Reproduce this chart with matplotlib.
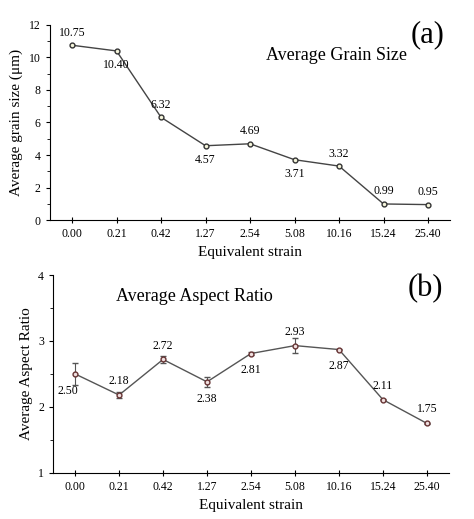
import matplotlib
matplotlib.use("Agg")
import matplotlib.pyplot as plt
from matplotlib.ticker import MultipleLocator

plt.rcParams['font.family'] = ['Liberation Serif', 'DejaVu Serif']

strain_labels = ["0.00", "0.21", "0.42", "1.27", "2.54", "5.08", "10.16", "15.24", "25.40"]
grain_size = [10.75, 10.40, 6.32, 4.57, 4.69, 3.71, 3.32, 0.99, 0.95]
grain_pos = ["a", "b", "a", "b", "a", "b", "a", "a", "a"]
aspect = [2.50, 2.18, 2.72, 2.38, 2.81, 2.93, 2.87, 2.11, 1.75]
aspect_err = [0.17, 0.05, 0.05, 0.08, 0.02, 0.11, 0.01, 0.01, 0.01]
aspect_pos = ["b", "a", "a", "b", "b", "a", "b", "a", "a"]

fig = plt.figure(figsize=(4.74, 5.19), dpi=100)
ax1 = fig.add_axes([0.105, 0.576, 0.845, 0.376])
ax2 = fig.add_axes([0.112, 0.089, 0.835, 0.381])
x = list(range(len(strain_labels)))

def style(ax):
    for s in ["top", "right"]:
        ax.spines[s].set_visible(False)
    ax.set_xticks(x)
    ax.set_xticklabels(strain_labels, fontsize=8.5)
    ax.tick_params(axis='x', direction='inout', length=5)
    ax.tick_params(axis='y', direction='out', length=3, labelsize=8.5)
    ax.tick_params(axis='y', which='minor', direction='out', length=2)
    ax.set_xlim(-0.5, 8.5)
    ax.set_xlabel("Equivalent strain", fontsize=11)

ax1.plot(x, grain_size, '-o', color='#444', lw=1, ms=3.5, mfc='#f5f5dc', mec='#333')
for xi, v, p in zip(x, grain_size, grain_pos):
    ax1.annotate(f"{v:.2f}", (xi, v), xytext=(0, 9 if p == "a" else -10),
                 textcoords='offset points', ha='center', va='center', fontsize=8.5)
ax1.set_ylim(0, 12)
ax1.yaxis.set_major_locator(MultipleLocator(2))
ax1.yaxis.set_minor_locator(MultipleLocator(1))
ax1.set_ylabel("Average grain size (μm)", fontsize=11)
ax1.text(0.54, 0.82, "Average Grain Size", transform=ax1.transAxes, fontsize=13)
ax1.text(0.985, 0.95, "(a)", transform=ax1.transAxes, fontsize=22, ha='right', va='center')
style(ax1)

ax2.errorbar(x, aspect, yerr=aspect_err, fmt='-o', color='#555', lw=1, ms=3.5,
             mfc='#f0e0e0', mec='#633', capsize=2, elinewidth=0.8)
for xi, v, p in zip(x, aspect, aspect_pos):
    dx = -5 if xi == 0 else 0
    ax2.annotate(f"{v:.2f}", (xi, v), xytext=(dx, 10 if p == "a" else -12),
                 textcoords='offset points', ha='center', va='center', fontsize=8.5)
ax2.set_ylim(1, 4)
ax2.yaxis.set_major_locator(MultipleLocator(1))
ax2.yaxis.set_minor_locator(MultipleLocator(0.5))
ax2.set_ylabel("Average Aspect Ratio", fontsize=11)
ax2.text(0.16, 0.87, "Average Aspect Ratio", transform=ax2.transAxes, fontsize=13)
ax2.text(0.985, 0.93, "(b)", transform=ax2.transAxes, fontsize=22, ha='right', va='center')
style(ax2)

fig.savefig("out.png", dpi=100)
